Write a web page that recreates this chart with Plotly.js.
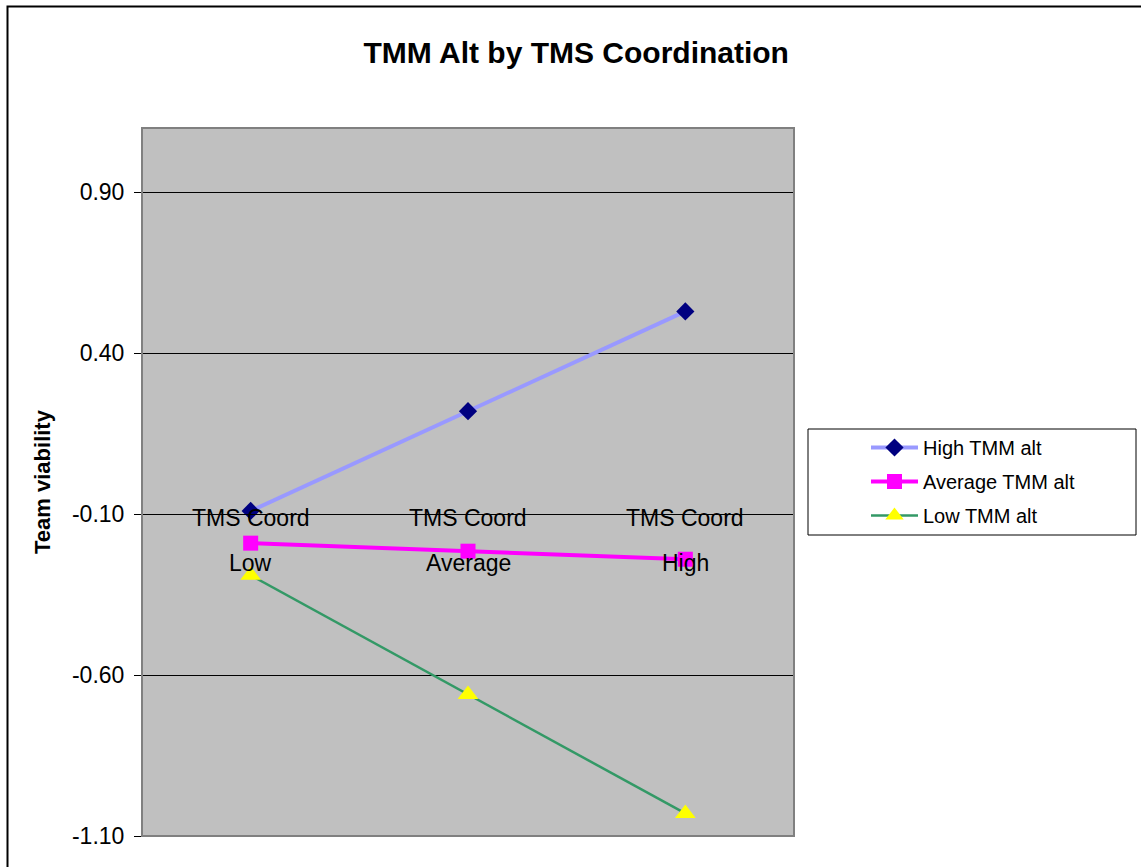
<!DOCTYPE html>
<html>
<head>
<meta charset="utf-8">
<script src="https://cdn.plot.ly/plotly-3.0.1.min.js"></script>
<style>
  html, body { margin: 0; padding: 0; background: #ffffff; }
  #chart { width: 1141px; height: 867px; }
</style>
</head>
<body>
<div id="chart"></div>
<script>
// ---- data ----
const categories = ['Low', 'Average', 'High'];
const categoryPrefix = 'TMS Coord';
const seriesNames = ['High TMM alt', 'Average TMM alt', 'Low TMM alt'];
const highTMM = [-0.09, 0.22, 0.53];
const averageTMM = [-0.19, -0.215, -0.24];
const lowTMM = [-0.29, -0.66, -1.03];
const yTickVals = [-1.1, -0.6, -0.1, 0.4, 0.9];
const yTickText = ['-1.10', '-0.60', '-0.10', '0.40', '0.90'];
const chartTitle = 'TMM Alt by TMS Coordination';
const yTitle = 'Team viability';

// ---- layout geometry ----
const W = 1141, H = 867;
const M = { l: 142, r: 347, t: 128, b: 31 };
const plotW = W - M.l - M.r, plotH = H - M.t - M.b;
const px2x = px => (px - M.l) / plotW;
const px2y = py => (H - M.b - py) / plotH;
const yRange = [-1.1, 1.1];
const crossAt = -0.1;
const font = 'Liberation Sans, Arial, Helvetica, sans-serif';

const traces = [
  {
    x: categories, y: highTMM, name: seriesNames[0], legendgroup: 'g1', type: 'scatter', mode: 'lines+markers',
    line: { color: '#9999FF', width: 4 },
    marker: { symbol: 'diamond', size: 14, color: '#000080', line: { width: 0 } }
  },
  {
    x: categories, y: averageTMM, name: seriesNames[1], legendgroup: 'g2', type: 'scatter', mode: 'lines+markers',
    line: { color: '#FF00FF', width: 4 },
    marker: { symbol: 'square', size: 15, color: '#FF00FF', line: { width: 0 } }
  },
  {
    x: categories, y: lowTMM, name: seriesNames[2], legendgroup: 'g3', type: 'scatter', mode: 'lines+markers',
    line: { color: '#339966', width: 2.5 },
    marker: { symbol: 'triangle-up', size: 18, color: '#FFFF00', line: { width: 0 } }
  }
];

const annotations = [];
categories.forEach(c => {
  annotations.push({ x: c, y: crossAt, xref: 'x', yref: 'y', text: categoryPrefix, showarrow: false,
    yanchor: 'middle', xanchor: 'center', yshift: -4, font: { family: font, size: 23, color: '#000' } });
  annotations.push({ x: c, y: crossAt, xref: 'x', yref: 'y', text: c, showarrow: false,
    yanchor: 'middle', xanchor: 'center', yshift: -49, font: { family: font, size: 23, color: '#000' } });
});

const shapes = [
  // plot area border (gray)
  { type: 'rect', xref: 'paper', yref: 'paper', x0: 0, x1: 1, y0: 0, y1: 1,
    line: { color: '#808080', width: 2 }, layer: 'above' },
  // legend box
  { type: 'rect', xref: 'paper', yref: 'paper', x0: px2x(808), x1: px2x(1136), y0: px2y(535), y1: px2y(429),
    line: { color: '#000000', width: 1 }, fillcolor: 'rgba(0,0,0,0)', layer: 'above' },
  // outer chart frame (left and top edges)
  { type: 'path', xref: 'paper', yref: 'paper',
    path: `M ${px2x(7.5)},${px2y(H + 10)} L ${px2x(7.5)},${px2y(6.5)} L ${px2x(W + 10)},${px2y(6.5)}`,
    line: { color: '#000000', width: 2 }, layer: 'above' }
];

const layout = {
  width: W, height: H,
  margin: M,
  paper_bgcolor: '#ffffff',
  plot_bgcolor: '#C0C0C0',
  font: { family: font, color: '#000' },
  title: {
    text: chartTitle, xref: 'container', yref: 'container', x: 0.505, y: 1 - 52 / H,
    xanchor: 'center', yanchor: 'middle',
    font: { family: font, size: 30, weight: 'bold', color: '#000' }
  },
  xaxis: {
    type: 'category', range: [-0.5, 2.5], anchor: 'free',
    position: (crossAt - yRange[0]) / (yRange[1] - yRange[0]),
    showline: true, linecolor: '#000', linewidth: 1,
    showgrid: false, zeroline: false, ticks: '', showticklabels: false, fixedrange: true
  },
  yaxis: {
    range: yRange, tickvals: yTickVals, ticktext: yTickText,
    showline: true, linecolor: '#000', linewidth: 1,
    ticks: 'outside', ticklen: 7, tickcolor: '#000', tickwidth: 1,
    ticklabelstandoff: 5,
    showgrid: true, gridcolor: '#000', gridwidth: 1, zeroline: false,
    tickfont: { family: font, size: 23, color: '#000' },
    title: { text: yTitle, standoff: 15, font: { family: font, size: 22, weight: 'bold', color: '#000' } },
    fixedrange: true
  },
  showlegend: true,
  legend: {
    x: px2x(866), y: px2y(428), xanchor: 'left', yanchor: 'top',
    bgcolor: 'rgba(0,0,0,0)', borderwidth: 0, itemwidth: 47, tracegroupgap: 5,
    font: { family: font, size: 20, color: '#000' }
  },
  annotations: annotations,
  shapes: shapes
};

Plotly.newPlot('chart', traces, layout, { displayModeBar: false, staticPlot: true });
</script>
</body>
</html>
